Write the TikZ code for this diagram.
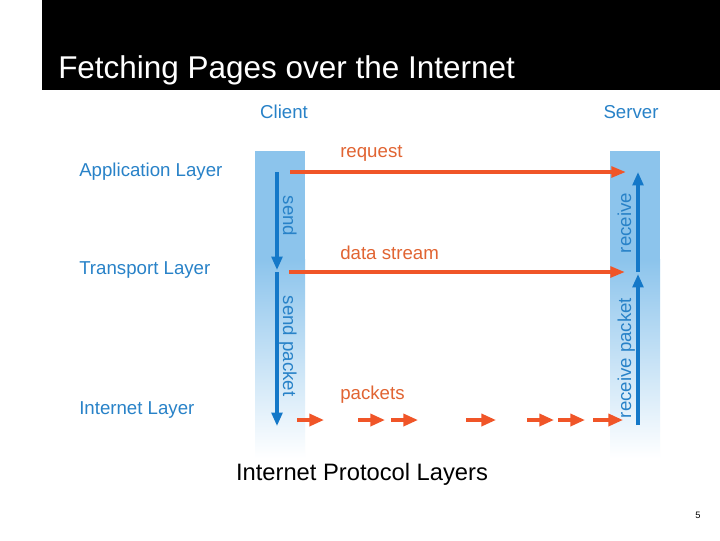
\documentclass[tikz,border=0pt]{standalone}
\usepackage{fontspec}
\setmainfont{Liberation Sans}
\usetikzlibrary{arrows.meta}
\definecolor{barblue}{RGB}{140,196,236}
\definecolor{arrblue}{RGB}{20,120,200}
\definecolor{lblblue}{RGB}{40,130,200}
\definecolor{org}{RGB}{240,85,40}
\definecolor{orgtxt}{RGB}{225,100,50}
\begin{document}
\begin{tikzpicture}[x=0.75pt,y=-0.75pt,
  lbl/.style={text=lblblue,font=\fontsize{14}{16}\selectfont,inner sep=0pt},
  otxt/.style={text=orgtxt,font=\fontsize{14}{16}\selectfont,inner sep=0pt},
  barr/.style={draw=arrblue,line width=2.4pt,-{Triangle[length=10pt,width=8pt]}},
  oarr/.style={draw=org,line width=2.6pt,-{Triangle[length=11pt,width=8pt]}},
  parr/.style={draw=org,line width=2.6pt,-{Triangle[length=11pt,width=9pt]}}]
\useasboundingbox (0,0) rectangle (720,540);
\fill[white] (0,0) rectangle (720,540);
\fill[black] (42,0) rectangle (720,90);
\node[anchor=base west,text=white,inner sep=0pt,font=\fontsize{23.6}{26}\selectfont] (title) at (58,78) {Fetching Pages over the Internet};
% bars
\foreach \x/\n in {255/l,610/r}{
  \fill[barblue] (\x,151) rectangle (\x+50,260);
  \shade[top color=barblue,bottom color=white] (\x,259.5) rectangle (\x+50,458);
}
\node[lbl,anchor=base] (client) at (284,118) {Client};
\node[lbl,anchor=base] (server) at (631,118) {Server};
\node[lbl,anchor=base west] (app) at (79,176) {Application Layer};
\node[lbl,anchor=base west] (trans) at (79,274) {Transport Layer};
\node[lbl,anchor=base west] (inet) at (79,414) {Internet Layer};
% coordinates
\coordinate (ls1) at (277,172); \coordinate (le1) at (277,270);
\coordinate (ls2) at (277,272); \coordinate (le2) at (277,426);
\coordinate (rs1) at (638,425); \coordinate (re1) at (638,274);
\coordinate (rs2) at (638,272); \coordinate (re2) at (638,172);
\draw[barr] (ls1) -- (le1);
\draw[barr] (ls2) -- (le2);
\draw[barr] (rs1) -- (re1);
\draw[barr] (rs2) -- (re2);
\node[lbl,rotate=-90,anchor=base] (send) at (283,216) {send};
\node[lbl,rotate=-90,anchor=base] (sendp) at (283,346) {send packet};
\node[lbl,rotate=90,anchor=base] (recv) at (631,223) {receive};
\node[lbl,rotate=90,anchor=base] (recvp) at (631,358) {receive packet};
% orange
\coordinate (q1) at (290,172); \coordinate (q2) at (626,172);
\coordinate (d1) at (289,272); \coordinate (d2) at (625,272);
\draw[oarr] (q1) -- (q2);
\draw[oarr] (d1) -- (d2);
\node[otxt,anchor=base west] (req) at (340,157) {request};
\node[otxt,anchor=base west] (ds) at (340,259) {data stream};
\node[otxt,anchor=base west] (pk) at (340,399) {packets};
\foreach \a/\b [count=\i] in {297/324,358/385,391/418,466/496,527/554,558/585,593/623}{
  \coordinate (p\i a) at (\a,420); \coordinate (p\i b) at (\b,420);
  \draw[parr] (p\i a) -- (p\i b);
}
\node[anchor=base,inner sep=0pt,font=\fontsize{17.8}{20}\selectfont] (cap) at (362,480) {Internet Protocol Layers};
\node[anchor=base,inner sep=0pt,font=\fontsize{7}{8}\selectfont] (pg) at (698,518) {5};
\end{tikzpicture}
\end{document}
